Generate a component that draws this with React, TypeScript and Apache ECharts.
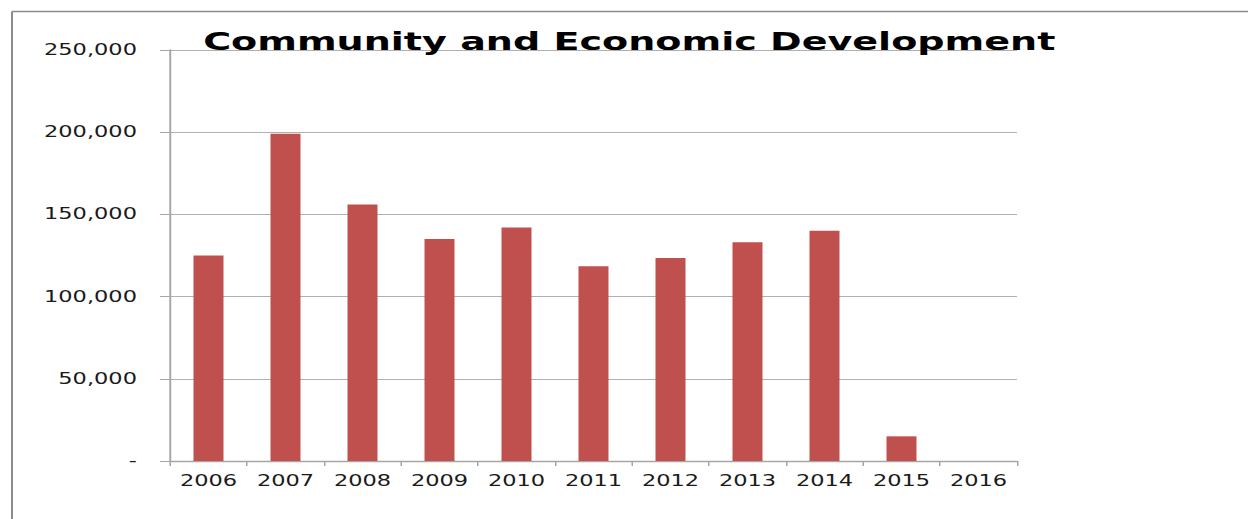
import React, { useEffect, useRef } from "react";
import * as echarts from "echarts";

const years = ["2006", "2007", "2008", "2009", "2010", "2011", "2012", "2013", "2014", "2015", "2016"];
const values = [125000, 199000, 156000, 135000, 142000, 118500, 123500, 133000, 140000, 15000, null];
const titleText = "Community and Economic Development";
const yMin = 0;
const yMax = 250000;
const yInterval = 50000;

const S = 1.5; // horizontal stretch of the original picture
const W = 1248 / S;

export default function App() {
  const ref = useRef<HTMLDivElement>(null);
  useEffect(() => {
    document.documentElement.style.overflow = "hidden";
    document.body.style.overflow = "hidden";
    document.body.style.margin = "0";
    if (!ref.current) return;
    const chart = echarts.init(ref.current, null, { renderer: "svg" });
    const font = "DejaVu Sans";
    chart.setOption({
      animation: false,
      backgroundColor: "#ffffff",
      title: {
        text: titleText,
        left: 414.5,
        top: 24,
        textAlign: "center",
        textStyle: { fontFamily: font, fontWeight: "bold", fontSize: 25.4, color: "#000" },
      },
      graphic: [
        {
          type: "line",
          shape: { x1: 8, y1: 11.5, x2: W, y2: 11.5 },
          style: { stroke: "#8a8a8a", lineWidth: 1.6 },
          silent: true,
        },
        {
          type: "line",
          shape: { x1: 8, y1: 11.5, x2: 8, y2: 530 },
          style: { stroke: "#8a8a8a", lineWidth: 1.3 },
          silent: true,
        },
      ],
      grid: { left: 113.33, top: 50, width: 564.67, height: 411, containLabel: false },
      xAxis: {
        type: "category",
        data: years,
        boundaryGap: true,
        axisLine: { show: true, lineStyle: { color: "#a6a6a6", width: 1.3 } },
        axisTick: { show: true, length: 5, alignWithLabel: false, lineStyle: { color: "#a6a6a6", width: 1 } },
        axisLabel: { margin: 12, fontFamily: font, fontSize: 15, color: "#1a1a1a", interval: 0 },
        splitLine: { show: false },
      },
      yAxis: {
        type: "value",
        min: yMin,
        max: yMax,
        interval: yInterval,
        axisLine: { show: true, lineStyle: { color: "#a6a6a6", width: 1.3 } },
        axisTick: { show: true, length: 6.67, lineStyle: { color: "#a6a6a6", width: 1 } },
        axisLabel: {
          margin: 22,
          fontFamily: font,
          fontSize: 15,
          color: "#1a1a1a",
          formatter: (v: number) => (v === 0 ? "-" : v.toLocaleString("en-US")),
        },
        splitLine: { show: true, lineStyle: { color: "#b0b0b0", width: 1 } },
      },
      series: [
        {
          type: "bar",
          data: values,
          barWidth: 20,
          itemStyle: { color: "#C0504D" },
        },
      ],
    });
    return () => chart.dispose();
  }, []);
  return (
    <div style={{ position: "fixed", left: 0, top: 0, width: 1248, height: 519, overflow: "hidden", background: "#fff" }}>
      <div
        ref={ref}
        style={{ width: W, height: 519, transform: `scaleX(${S})`, transformOrigin: "0 0" }}
      />
    </div>
  );
}
